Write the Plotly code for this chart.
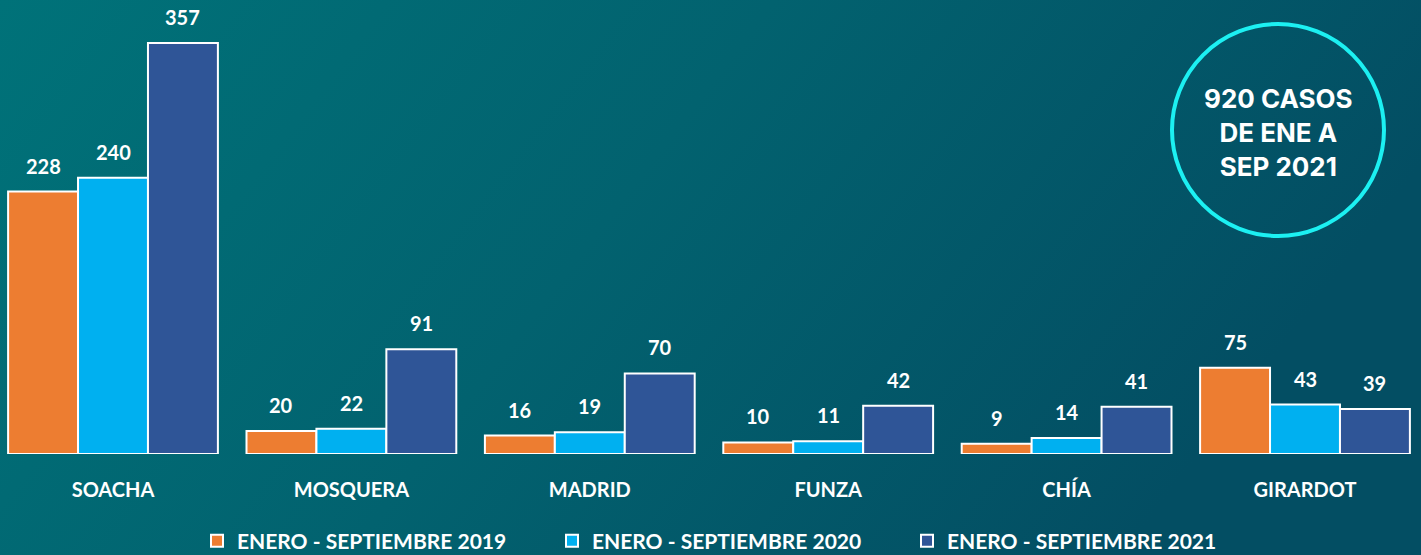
import base64
import plotly.graph_objects as go

categories = ["SOACHA", "MOSQUERA", "MADRID", "FUNZA", "CHÍA", "GIRARDOT"]
series_names = ["ENERO - SEPTIEMBRE 2019", "ENERO - SEPTIEMBRE 2020", "ENERO - SEPTIEMBRE 2021"]
values_2019 = [228, 20, 16, 10, 9, 75]
values_2020 = [240, 22, 19, 11, 14, 43]
values_2021 = [357, 91, 70, 42, 41, 39]
badge_text = "920 CASOS<br>DE ENE A<br>SEP 2021"

colors = ["#ED7D31", "#00B0F0", "#2F5597"]
series = [values_2019, values_2020, values_2021]

W, H = 1421, 555
T, B = 0, 101
PH = H - T - B
BARGAP = 0.12
FONT = "Lato"

fig = go.Figure()
for name, vals, col in zip(series_names, series, colors):
    fig.add_trace(go.Bar(
        x=list(range(len(categories))), y=vals, name=f"<b>{name}</b>",
        marker=dict(color=col, line=dict(color="white", width=2)),
    ))

# value labels
bw = (1 - BARGAP) / len(series)
for j, vals in enumerate(series):
    off = (j - (len(series) - 1) / 2) * bw
    for i, v in enumerate(vals):
        fig.add_annotation(x=i + off, y=v, text=f"<b>{v}</b>", showarrow=False,
                           yanchor="bottom", yshift=12,
                           font=dict(family=FONT, size=20, color="white"))

# gradient background
svg = ('<svg xmlns="http://www.w3.org/2000/svg" width="1421" height="555">'
       '<defs><linearGradient id="g" x1="0" y1="0" x2="1" y2="0.3">'
       '<stop offset="0" stop-color="#007279"/>'
       '<stop offset="0.5" stop-color="#02626F"/>'
       '<stop offset="1" stop-color="#034E63"/>'
       '</linearGradient></defs>'
       '<rect width="1421" height="555" fill="url(#g)"/></svg>')
src = "data:image/svg+xml;base64," + base64.b64encode(svg.encode()).decode()
fig.add_layout_image(dict(source=src, xref="paper", yref="paper", x=0, y=1,
                          sizex=1, sizey=H / PH, xanchor="left", yanchor="top",
                          sizing="stretch", layer="below"))

# badge circle
cx, cy, r = 1278, 130, 106
fig.add_shape(type="circle", xref="paper", yref="paper",
              x0=(cx - r) / W, x1=(cx + r) / W,
              y0=1 - (cy + r) / PH, y1=1 - (cy - r) / PH,
              line=dict(color="#1CF0F2", width=4), fillcolor="rgba(0,0,0,0)")
fig.add_annotation(xref="paper", yref="paper", x=cx / W, y=1 - 132 / PH,
                   xanchor="center", yanchor="middle",
                   text=f"<b>{badge_text}</b>", showarrow=False,
                   font=dict(family="Inter", size=26, color="white"),
                   align="center")

x0 = -113 / 238.4
x1 = (W - 113) / 238.4
fig.update_layout(
    width=W, height=H,
    margin=dict(l=0, r=0, t=T, b=B, pad=0, autoexpand=False),
    paper_bgcolor="#02606E", plot_bgcolor="rgba(0,0,0,0)",
    barmode="group", bargap=BARGAP, bargroupgap=0,
    showlegend=True,
    legend=dict(orientation="h", x=0.5 + 19 / W, xanchor="center",
                yref="container", y=(H - 541) / H, yanchor="middle",
                font=dict(family=FONT, size=21, color="white"),
                entrywidth=310, entrywidthmode="pixels",
                bgcolor="rgba(0,0,0,0)"),
    xaxis=dict(range=[x0, x1], tickmode="array", tickvals=list(range(len(categories))),
               ticktext=[f"<b>{c}</b>" for c in categories],
               showgrid=False, zeroline=False, showline=False,
               tickfont=dict(family=FONT, size=20, color="white"),
               ticklabelstandoff=22, ticks=""),
    yaxis=dict(range=[0, PH / 1.151], visible=False, showgrid=False, zeroline=False),
)

fig.write_html("out.html", config={"displayModeBar": False},
               post_script="document.body.style.margin='0';")
